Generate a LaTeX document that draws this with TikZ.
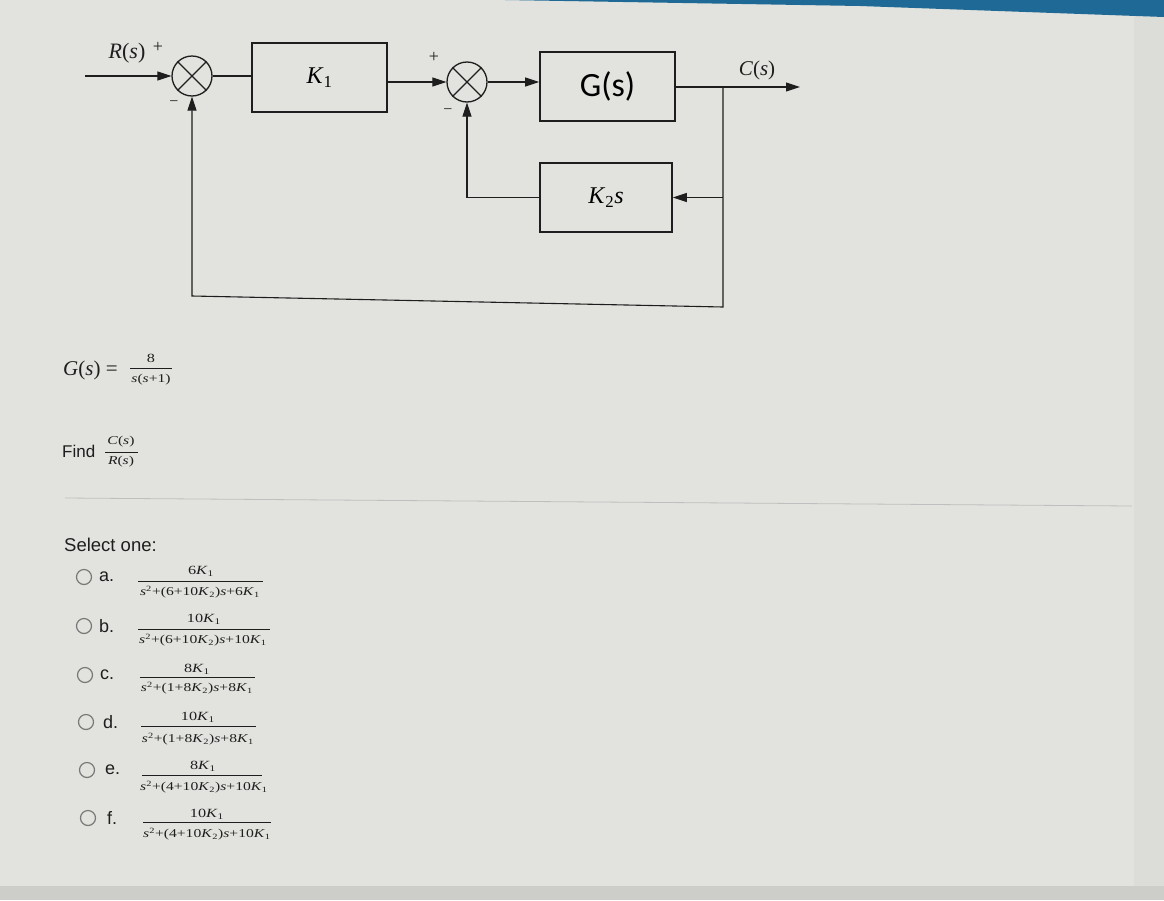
\documentclass[tikz,border=0pt]{standalone}
\usepackage{graphicx}
\usepackage{fontspec}
\setmainfont{Liberation Serif}
\newfontfamily\arial{Liberation Sans}
\newfontfamily\calib{Carlito}
\usetikzlibrary{arrows.meta}
\definecolor{bg}{RGB}{226,226,222}
\definecolor{bgdark}{RGB}{205,205,202}
\definecolor{bgright}{RGB}{220,220,216}
\definecolor{topblue}{RGB}{30,105,150}
\definecolor{ink}{RGB}{30,30,30}
\definecolor{radio}{RGB}{120,120,120}
\newcommand\myK[1]{\textit{K}\textsubscript{#1}}
\newcommand\mys{\textit{s}}
\newcommand\mysq{\textit{s}\textsuperscript{2}}
\newcommand\wide[1]{\scalebox{1.3}[1]{#1}}
\begin{document}
\begin{tikzpicture}[x=1pt,y=-1pt,
  blk/.style={draw=ink, line width=1.6pt, inner sep=0pt},
  sumc/.style={circle, draw=ink, line width=1.3pt, minimum size=40pt, inner sep=0pt},
  wire/.style={draw=ink, line width=1.1pt},
  arr/.style={wire, -{Triangle[length=14pt,width=9pt]}},
  lbl/.style={inner sep=0pt, text=ink},
  fnum/.style={inner sep=0pt, text=ink, font=\fontsize{12.5}{13}\selectfont},
  fden/.style={inner sep=0pt, text=ink, font=\fontsize{12}{13}\selectfont},
  frule/.style={draw=ink, line width=0.9pt},
  rad/.style={circle, draw=radio, line width=1.2pt, minimum size=15pt, inner sep=0pt},
  optl/.style={inner sep=0pt, anchor=west, text=ink, font=\arial\fontsize{18}{20}\selectfont}]
% background
\fill[bg] (0,0) rectangle (1164,900);
\fill[bgright] (1134,0) rectangle (1164,900);
\fill[bgdark] (0,886) rectangle (1164,900);
\fill[topblue] (505,0) -- (1164,0) -- (1164,17) -- (860,6) -- cycle;
\draw[black!25, line width=0.8pt] (65,498) -- (1132,506);

% block diagram
\node[sumc] (S1) at (192,76) {};
\draw[ink, line width=1.3pt] (S1.north west) -- (S1.south east) (S1.north east) -- (S1.south west);
\node[sumc] (S2) at (467,82) {};
\draw[ink, line width=1.3pt] (S2.north west) -- (S2.south east) (S2.north east) -- (S2.south west);
\node[blk, minimum width=135pt, minimum height=69pt] (K1) at (319.5,77.5)
  {\fontsize{24}{26}\selectfont \myK{1}};
\node[blk, minimum width=135pt, minimum height=69pt] (G) at (607.5,86.5)
  {\calib\fontsize{34}{38}\selectfont G(s)};
\node[blk, minimum width=132pt, minimum height=69pt] (K2) at (606,197.5)
  {\fontsize{24}{26}\selectfont \myK{2}\mys};

\coordinate (Rin) at (85,76);
\coordinate (Cout) at (800,87);
\coordinate (br) at (723,87);
\coordinate (brb) at (723,307);
\coordinate (blb) at (192,296);

\draw[arr] (Rin) -- (S1.west);
\draw[wire] (S1.east) -- (S1.east -| K1.west);
\draw[arr] (K1.east |- S2.west) -- (S2.west);
\draw[arr] (S2.east) -- (S2.east -| G.west);
\draw[arr] (G.east |- Cout) -- (Cout);
\draw[arr] (br) -- (brb) -- (blb) -- (S1.south);
\draw[arr] (br |- K2.east) -- (K2.east);
\draw[arr] (K2.west) -- (K2.west -| S2.south) -- (S2.south);

\node[lbl] (Rl) at (127,53) {\fontsize{22}{24}\selectfont \textit{R}(\textit{s})};
\node[lbl] (p1) at (158,47) {\fontsize{18}{20}\selectfont +};
\node[lbl] (m1) at (174,104) {\fontsize{16}{18}\selectfont −};
\node[lbl] (p2) at (434,57) {\fontsize{18}{20}\selectfont +};
\node[lbl] (m2) at (448,112) {\fontsize{16}{18}\selectfont −};
\node[lbl] (Cl) at (757,70) {\fontsize{21}{22}\selectfont \textit{C}(\textit{s})};

% G(s) definition
\node[lbl, anchor=west] (Geq) at (63,370) {\fontsize{21}{24}\selectfont \textit{G}(\textit{s}) =};
\node[fnum] (g8) at (151,358) {\wide{8}};
\draw[frule] (130,368) -- (172,368);
\node[fden] (gden) at (151,380) {\wide{\mys(\mys+1)}};

% Find
\node[lbl, anchor=west, font=\arial\fontsize{17}{20}\selectfont] (find) at (62,451) {Find};
\node[fden] (fc) at (121,442) {\wide{\textit{C}(\mys)}};
\draw[frule] (105,452) -- (138,452);
\node[fden] (fr) at (121,462) {\wide{\textit{R}(\mys)}};

% Select one
\node[lbl, anchor=west, font=\arial\fontsize{18.5}{22}\selectfont] (sel) at (64,545) {Select one:};

% options
\node[rad] (ra) at (84,577) {};
\node[optl] (la) at (99,577) {a.};
\node[fnum] (na) at (201,571) {\wide{6\myK{1}}};
\draw[frule] (138,581) -- (263,581);
\node[fden] (da) at (200,592) {\wide{\mysq+(6+10\myK{2})\mys+6\myK{1}}};

\node[rad] (rb) at (84,626) {};
\node[optl] (lb) at (99,626) {b.};
\node[fnum] (nb) at (204,619) {\wide{10\myK{1}}};
\draw[frule] (138,629) -- (270,629);
\node[fden] (db) at (203,640) {\wide{\mysq+(6+10\myK{2})\mys+10\myK{1}}};

\node[rad] (rc) at (85,675) {};
\node[optl] (lc) at (100,675) {c.};
\node[fnum] (nc) at (197,669) {\wide{8\myK{1}}};
\draw[frule] (140,677) -- (255,677);
\node[fden] (dc) at (197,688) {\wide{\mysq+(1+8\myK{2})\mys+8\myK{1}}};

\node[rad] (rd) at (86,722) {};
\node[optl] (ld) at (103,722) {d.};
\node[fnum] (nd) at (198,717) {\wide{10\myK{1}}};
\draw[frule] (141,726) -- (256,726);
\node[fden] (dd) at (198,739) {\wide{\mysq+(1+8\myK{2})\mys+8\myK{1}}};

\node[rad] (re) at (87,770) {};
\node[optl] (le) at (105,770) {e.};
\node[fnum] (ne) at (203,766) {\wide{8\myK{1}}};
\draw[frule] (142,775) -- (262,775);
\node[fden] (de) at (204,787) {\wide{\mysq+(4+10\myK{2})\mys+10\myK{1}}};

\node[rad] (rf) at (88,818) {};
\node[optl] (lf) at (107,818) {f.};
\node[fnum] (nf) at (207,814) {\wide{10\myK{1}}};
\draw[frule] (143,822) -- (271,822);
\node[fden] (df) at (207,834) {\wide{\mysq+(4+10\myK{2})\mys+10\myK{1}}};
\end{tikzpicture}
\end{document}
